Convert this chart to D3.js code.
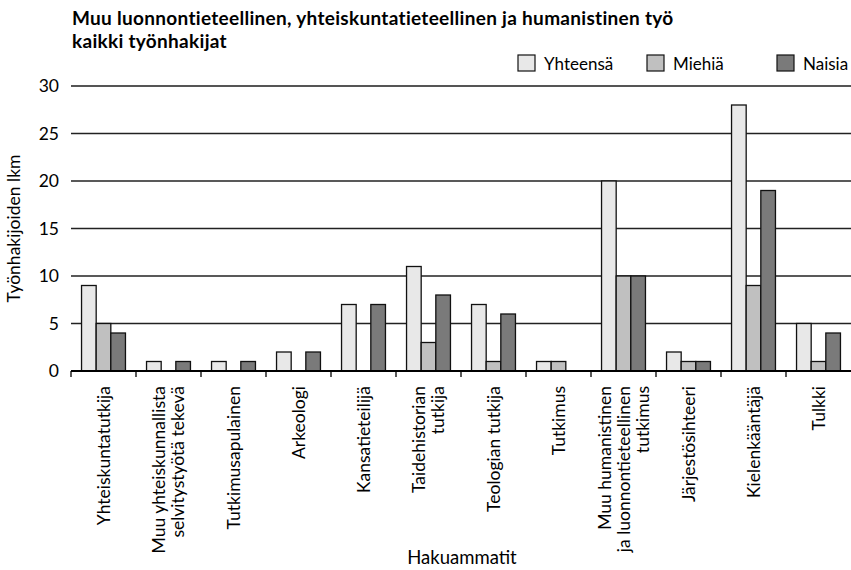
<!DOCTYPE html>
<html><head><meta charset="utf-8">
<script src="https://cdn.jsdelivr.net/npm/d3@7"></script>
<style>body{margin:0;background:#fff}svg{display:block}text{font-family:Lato,"Open Sans",sans-serif;fill:#000}</style>
</head><body><svg id="c" width="851" height="570"></svg>
<script>
const categories = [
  ["Yhteiskuntatutkija"],
  ["Muu yhteiskunnallista","selvitystyötä tekevä"],
  ["Tutkimusapulainen"],
  ["Arkeologi"],
  ["Kansatieteilijä"],
  ["Taidehistorian","tutkija"],
  ["Teologian tutkija"],
  ["Tutkimus"],
  ["Muu humanistinen","ja luonnontieteellinen","tutkimus"],
  ["Järjestösihteeri"],
  ["Kielenkääntäjä"],
  ["Tulkki"]
];
const seriesNames = ["Yhteensä","Miehiä","Naisia"];
const yhteensa = [9,1,1,2,7,11,7,1,20,2,28,5];
const miehia   = [5,0,0,0,0,3,1,1,10,1,9,1];
const naisia   = [4,1,1,2,7,8,6,0,10,1,19,4];
const colors = ["#e8e8e8","#c0c0c0","#7a7a7a"];
const yTicks = [0,5,10,15,20,25,30];
const titleLines = ["Muu luonnontieteellinen, yhteiskuntatieteellinen ja humanistinen työ","kaikki työnhakijat"];

(function(){
const svg = d3.select("#c");
const pL = 71, pR = 851, pT = 86, pB = 371;
const idx = categories.map((d,i)=>i);
const x0 = d3.scaleBand().domain(idx).range([pL,pR]).paddingInner(0);
const x1 = d3.scaleBand().domain(seriesNames).range([0,x0.bandwidth()]).paddingInner(0).paddingOuter(0.72);
const y = d3.scaleLinear().domain([0,30]).range([pB,pT]);
const values = [yhteensa,miehia,naisia];

// title
titleLines.forEach((t,i)=>{
  svg.append("text").attr("x",72).attr("y",25+i*22.5)
    .style("font-weight","bold").style("font-size","19px").style("letter-spacing","0.3px").text(t);
});

// gridlines
svg.append("g").selectAll("line").data(yTicks.filter(t=>t>0)).join("line")
  .attr("x1",pL).attr("x2",pR).attr("y1",d=>y(d)).attr("y2",d=>y(d))
  .attr("stroke",d=>d===30?"#555":"#222").attr("stroke-width",d=>d===30?2:1.5);

// y tick labels
svg.append("g").selectAll("text").data(yTicks).join("text")
  .attr("x",59).attr("y",d=>y(d)).attr("dy","0.36em").attr("text-anchor","end")
  .style("font-size","17.5px").text(d=>d);

// y title
svg.append("text").attr("transform",`translate(20,${(pT+pB)/2}) rotate(-90)`)
  .attr("text-anchor","middle").style("font-size","17.5px").text("Työnhakijoiden lkm");

// bars
const g = svg.append("g");
idx.forEach(i=>{
  seriesNames.forEach((s,k)=>{
    const v = values[k][i];
    if(v<=0) return;
    g.append("rect").attr("x",x0(i)+x1(s)).attr("y",y(v))
      .attr("width",x1.bandwidth()).attr("height",y(0)-y(v))
      .attr("fill",colors[k]).attr("stroke","#111").attr("stroke-width",1.3);
  });
});

// x axis baseline and ticks
svg.append("line").attr("x1",pL).attr("x2",pR).attr("y1",y(0)).attr("y2",y(0)).attr("stroke","#000").attr("stroke-width",2);
svg.append("g").selectAll("line").data(idx).join("line")
  .attr("x1",d=>x0(d)).attr("x2",d=>x0(d)).attr("y1",y(0)).attr("y2",y(0)+6).attr("stroke","#000").attr("stroke-width",1.3);

// x labels
const lh = 19;
idx.forEach(i=>{
  const lines = categories[i];
  const cx = x0(i)+x0.bandwidth()/2;
  const n = lines.length;
  lines.forEach((t,j)=>{
    const xx = cx + (j-(n-1)/2)*lh;
    svg.append("text").attr("transform",`translate(${xx},386) rotate(-90)`)
      .attr("text-anchor","end").attr("dy","0.35em").style("font-size","17.5px").text(t);
  });
});

// x title
svg.append("text").attr("x",462).attr("y",564).attr("text-anchor","middle").style("font-size","18.5px").text("Hakuammatit");

// legend
const legX = [518,647,777];
seriesNames.forEach((s,k)=>{
  svg.append("rect").attr("x",legX[k]).attr("y",55).attr("width",17).attr("height",16)
    .attr("fill",colors[k]).attr("stroke","#111").attr("stroke-width",1.2);
  svg.append("text").attr("x",legX[k]+26).attr("y",70).style("font-size","17px").text(s);
});
})();
</script></body></html>
